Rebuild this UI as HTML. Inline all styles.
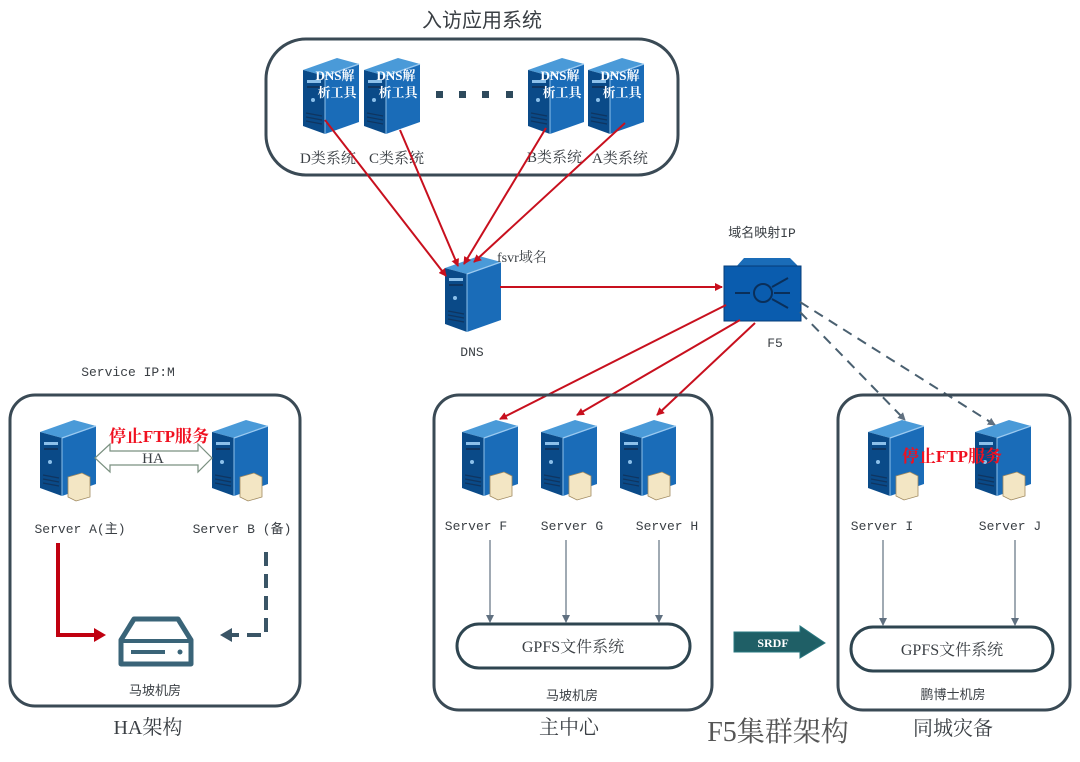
<!DOCTYPE html>
<html><head><meta charset="utf-8"><style>
html,body{margin:0;padding:0;background:#fff;}
svg{display:block;}
text{font-family:"Liberation Serif","Noto Serif CJK SC","Noto Sans CJK SC",serif;fill:#3a3f44;}
.m{font-family:"Liberation Mono","Noto Sans CJK SC",monospace;font-size:13px;}
.s{font-family:"Liberation Sans","Noto Sans CJK SC",sans-serif;}
</style></head><body>
<svg width="1080" height="762" viewBox="0 0 1080 762" xmlns="http://www.w3.org/2000/svg">
<defs>
<g id="srv">
 <polygon points="0,12 34,0 56,6 22,18" fill="#4a9ad8"/>
 <polygon points="0,12 22,18 22,76 0,68" fill="#0a4a88"/>
 <polygon points="22,18 56,6 56,64 22,76" fill="#1a6cb8"/>
 <polyline points="22,18 56,6" stroke="#9ccaf0" stroke-width="1.2" fill="none"/>
 <line x1="22" y1="18" x2="22" y2="76" stroke="#8cc0ea" stroke-width="1"/>
 <rect x="4" y="22" width="14" height="3" fill="#8cc0ea"/>
 <rect x="4" y="28" width="14" height="2" fill="#0f3560"/>
 <circle cx="10" cy="42" r="2" fill="#8cc0ea"/>
 <line x1="3" y1="55" x2="19" y2="58" stroke="#0f3560" stroke-width="1.2"/>
 <line x1="3" y1="59" x2="19" y2="62" stroke="#0f3560" stroke-width="1.2"/>
 <line x1="3" y1="63" x2="19" y2="66" stroke="#0f3560" stroke-width="1.2"/>
</g>
<g id="doc">
 <polygon points="0,4 14,0 22,4 22,24 8,28 0,24" fill="#f3e6c4" stroke="#a08a60" stroke-width="0.8"/>
</g>
<marker id="ar" markerWidth="8" markerHeight="8" refX="7" refY="4" orient="auto" markerUnits="userSpaceOnUse"><path d="M0,0 L8,4 L0,8 Z" fill="#c8101e"/></marker>
<marker id="ag" markerWidth="8" markerHeight="8" refX="7" refY="4" orient="auto" markerUnits="userSpaceOnUse"><path d="M0,0 L8,4 L0,8 Z" fill="#607080"/></marker>
<marker id="ad" markerWidth="12" markerHeight="12" refX="10" refY="6" orient="auto" markerUnits="userSpaceOnUse"><path d="M0,0 L12,6 L0,12 Z" fill="#4a6070"/></marker>
</defs>

<!-- top -->
<text x="482" y="27" font-size="20" text-anchor="middle" class="s">入访应用系统</text>
<rect x="266" y="39" width="412" height="136" rx="40" fill="none" stroke="#3a4a55" stroke-width="3"/>
<use href="#srv" x="303" y="58"/>
<use href="#srv" x="364" y="58"/>
<use href="#srv" x="528" y="58"/>
<use href="#srv" x="588" y="58"/>
<g font-size="13" font-weight="bold" style="fill:#fff" text-anchor="middle">
<text x="335" y="80" style="fill:#fff">DNS解</text><text x="337" y="97" style="fill:#fff">析工具</text>
<text x="396" y="80" style="fill:#fff">DNS解</text><text x="398" y="97" style="fill:#fff">析工具</text>
<text x="560" y="80" style="fill:#fff">DNS解</text><text x="562" y="97" style="fill:#fff">析工具</text>
<text x="620" y="80" style="fill:#fff">DNS解</text><text x="622" y="97" style="fill:#fff">析工具</text>
</g>
<g fill="#2e4a5c"><rect x="436" y="91" width="7" height="7"/><rect x="459" y="91" width="7" height="7"/><rect x="482" y="91" width="7" height="7"/><rect x="506" y="91" width="7" height="7"/></g>
<g font-size="15">
<text x="300" y="163">D类系统</text><text x="369" y="163">C类系统</text>
<text x="527" y="162">B类系统</text><text x="592" y="163">A类系统</text>
</g>

<!-- DNS and F5 -->
<use href="#srv" x="445" y="256" transform="scale(1)"/>
<text x="497" y="262" font-size="14">fsvr域名</text>
<text x="472" y="356" font-size="13" text-anchor="middle" class="m">DNS</text>
<polygon points="735,268 744,258 790,258 800,268" fill="#1a6cb8"/>
<rect x="724" y="266" width="77" height="55" fill="#0a5cae" stroke="#063d78"/>
<circle cx="763" cy="293" r="9" fill="none" stroke="#0a2f5a" stroke-width="2"/>
<path d="M735,293 H750 M774,293 H790 M772,287 L788,278 M772,299 L788,308" stroke="#0a2f5a" stroke-width="2"/>
<text x="762" y="237" font-size="13" text-anchor="middle" class="m">域名映射IP</text>
<text x="775" y="347" font-size="13" text-anchor="middle" class="m">F5</text>

<!-- red arrows -->
<g stroke="#c8101e" stroke-width="2" fill="none" marker-end="url(#ar)">
<line x1="325" y1="120" x2="446" y2="276"/>
<line x1="400" y1="130" x2="458" y2="266"/>
<line x1="546" y1="128" x2="464" y2="264"/>
<line x1="625" y1="123" x2="474" y2="262"/>
<line x1="500" y1="287" x2="722" y2="287"/>
<line x1="726" y1="305" x2="500" y2="419"/>
<line x1="740" y1="320" x2="577" y2="415"/>
<line x1="755" y1="323" x2="657" y2="415"/>
</g>
<g stroke="#4a6070" stroke-width="2" fill="none" stroke-dasharray="10,7" marker-end="url(#ag)">
<line x1="800" y1="312" x2="905" y2="420"/>
<line x1="800" y1="302" x2="995" y2="425"/>
</g>

<!-- HA box -->
<text x="128" y="376" class="m" text-anchor="middle">Service IP:M</text>
<rect x="10" y="395" width="290" height="311" rx="25" fill="none" stroke="#3a4a55" stroke-width="3"/>
<use href="#srv" x="40" y="420"/><use href="#doc" x="68" y="473"/>
<use href="#srv" x="212" y="420"/><use href="#doc" x="240" y="473"/>
<polygon points="95,458 110,444 110,451 198,451 198,444 212,458 198,472 198,465 110,465 110,472" fill="#fff" stroke="#7a9080" stroke-width="1.2"/>
<text x="153" y="463" font-size="15" text-anchor="middle">HA</text>
<text x="159" y="442" font-size="17" font-weight="bold" text-anchor="middle" style="fill:#f01020">停止FTP服务</text>
<text x="80" y="533" class="m" text-anchor="middle">Server A(主)</text>
<text x="242" y="533" class="m" text-anchor="middle">Server B (备)</text>
<path d="M58,543 V635 H96" stroke="#c00010" stroke-width="4" fill="none"/>
<polygon points="94,628 106,635 94,642" fill="#c00010"/>
<path d="M266,552 V635 H230" stroke="#3a5566" stroke-width="4" fill="none" stroke-dasharray="14,8"/>
<polygon points="232,628 220,635 232,642" fill="#3a5566"/>
<path d="M121,640 L134,619 L178,619 L191,640 V664 H121 Z" fill="none" stroke="#3a6478" stroke-width="5" stroke-linejoin="round"/>
<line x1="121" y1="641" x2="191" y2="641" stroke="#3a6478" stroke-width="4"/>
<rect x="131" y="650" width="34" height="4" fill="#3a6478"/><circle cx="180" cy="652" r="2.5" fill="#3a6478"/>
<text x="155" y="695" font-size="13" text-anchor="middle" class="s">马坡机房</text>
<text x="148" y="734" font-size="20" text-anchor="middle">HA架构</text>

<!-- main center -->
<rect x="434" y="395" width="278" height="315" rx="25" fill="none" stroke="#3a4a55" stroke-width="3"/>
<use href="#srv" x="462" y="420"/><use href="#doc" x="490" y="472"/>
<use href="#srv" x="541" y="420"/><use href="#doc" x="569" y="472"/>
<use href="#srv" x="620" y="420"/><use href="#doc" x="648" y="472"/>
<text x="476" y="530" class="m" text-anchor="middle">Server F</text>
<text x="572" y="530" class="m" text-anchor="middle">Server G</text>
<text x="667" y="530" class="m" text-anchor="middle">Server H</text>
<g stroke="#607080" stroke-width="1.2" marker-end="url(#ag)">
<line x1="490" y1="540" x2="490" y2="622"/><line x1="566" y1="540" x2="566" y2="622"/><line x1="659" y1="540" x2="659" y2="622"/>
</g>
<rect x="457" y="624" width="233" height="44" rx="22" fill="none" stroke="#2e4550" stroke-width="3"/>
<text x="573" y="652" font-size="16" text-anchor="middle">GPFS文件系统</text>
<text x="572" y="700" font-size="13" text-anchor="middle" class="s">马坡机房</text>
<text x="569" y="734" font-size="20" text-anchor="middle">主中心</text>

<!-- SRDF -->
<polygon points="734,632 800,632 800,626 825,643 800,658 800,652 734,652" fill="#1f5f66" stroke="#2a7880"/>
<text x="773" y="647" font-size="12" font-weight="bold" text-anchor="middle" style="fill:#fff">SRDF</text>
<text x="778" y="741" font-size="28" text-anchor="middle" style="fill:#555">F5集群架构</text>

<!-- DR -->
<rect x="838" y="395" width="232" height="315" rx="25" fill="none" stroke="#3a4a55" stroke-width="3"/>
<use href="#srv" x="868" y="420"/><use href="#doc" x="896" y="472"/>
<use href="#srv" x="975" y="420"/><use href="#doc" x="1003" y="472"/>
<text x="952" y="462" font-size="17" font-weight="bold" text-anchor="middle" style="fill:#f01020">停止FTP服务</text>
<text x="882" y="530" class="m" text-anchor="middle">Server I</text>
<text x="1010" y="530" class="m" text-anchor="middle">Server J</text>
<g stroke="#607080" stroke-width="1.2" marker-end="url(#ag)">
<line x1="883" y1="540" x2="883" y2="625"/><line x1="1015" y1="540" x2="1015" y2="625"/>
</g>
<rect x="851" y="627" width="202" height="44" rx="22" fill="none" stroke="#2e4550" stroke-width="3"/>
<text x="952" y="655" font-size="16" text-anchor="middle">GPFS文件系统</text>
<text x="953" y="699" font-size="13" text-anchor="middle" class="s">鹏博士机房</text>
<text x="953" y="735" font-size="20" text-anchor="middle">同城灾备</text>
</svg>
</body></html>
